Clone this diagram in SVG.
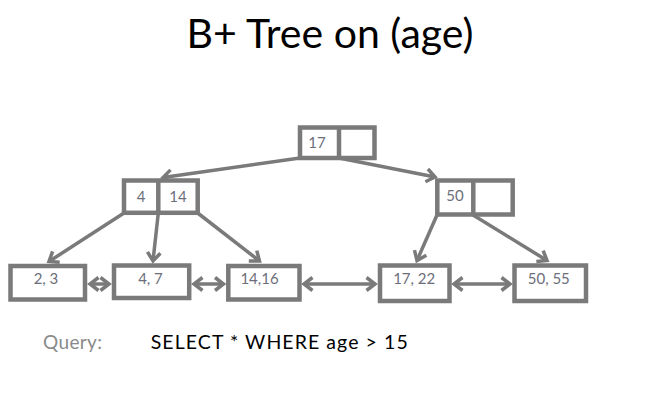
<svg xmlns="http://www.w3.org/2000/svg" width="650" height="412" viewBox="0 0 650 412">
<style>
.box{fill:#fff;stroke:#7a7a7a;stroke-width:4.5}
.div{stroke:#7a7a7a;stroke-width:4.5}
.lbl{font-family:Lato,"Liberation Sans",sans-serif;font-size:15px;fill:#6c6e7a;text-anchor:middle}
.ln{stroke:#7a7a7a;stroke-width:3.5;fill:none}
.one{marker-end:url(#ah)}
.two{marker-start:url(#ah);marker-end:url(#ah)}
</style>
<defs>
<marker id="ah" markerUnits="userSpaceOnUse" viewBox="-16 -10 20 20" markerWidth="20" markerHeight="20" refX="0" refY="0" orient="auto-start-reverse">
<path d="M -8.5 -6.5 L 0 0 L -8.5 6.5" fill="none" stroke="#7a7a7a" stroke-width="3.5" stroke-linejoin="miter"/>
</marker>
</defs>
<rect width="650" height="412" fill="#fff"/>
<text x="330" y="48" font-family="Lato,'Liberation Sans',sans-serif" font-size="41" fill="#000" text-anchor="middle">B+ Tree on (age)</text>
<g id="connectors">
<line class="ln one" x1="300" y1="158" x2="163" y2="177.5"/>
<line class="ln one" x1="339" y1="158" x2="435" y2="177"/>
<line class="ln one" x1="124" y1="213" x2="49" y2="261.5"/>
<line class="ln one" x1="158.3" y1="213" x2="153" y2="261"/>
<line class="ln one" x1="197.7" y1="213" x2="259.5" y2="261"/>
<line class="ln one" x1="437" y1="215" x2="417" y2="260.5"/>
<line class="ln one" x1="473" y1="215" x2="547" y2="260.5"/>
<line class="ln two" x1="90" y1="284" x2="109" y2="284"/>
<line class="ln two" x1="194" y1="284" x2="223.5" y2="284"/>
<line class="ln two" x1="304" y1="284" x2="375" y2="284"/>
<line class="ln two" x1="454" y1="284" x2="510" y2="284"/>
</g>
<g id="root">
<rect class="box" x="300" y="127.5" width="74.5" height="30.5"/>
<line class="div" x1="339" y1="127.5" x2="339" y2="158"/>
<text class="lbl" x="317" y="148" font-size="16">17</text>
</g>
<g id="node-4-14">
<rect class="box" x="124" y="180.5" width="73.7" height="32.3"/>
<line class="div" x1="158.3" y1="180.5" x2="158.3" y2="212.8"/>
<text class="lbl" x="141" y="201.5" font-size="16">4</text>
<text class="lbl" x="178" y="201.5" font-size="16">14</text>
</g>
<g id="node-50">
<rect class="box" x="437.3" y="180.5" width="75.4" height="34"/>
<line class="div" x1="473.3" y1="180.5" x2="473.3" y2="214.5"/>
<text class="lbl" x="455" y="201" font-size="16">50</text>
</g>
<g id="leaf-2-3">
<rect class="box" x="10.5" y="266" width="74.5" height="33.5"/>
<text class="lbl" x="46" y="284">2, 3</text>
</g>
<g id="leaf-4-7">
<rect class="box" x="114" y="265.5" width="75.2" height="32.5"/>
<text class="lbl" x="150.5" y="284">4, 7</text>
</g>
<g id="leaf-14-16">
<rect class="box" x="228.3" y="266" width="71.2" height="33.5"/>
<text class="lbl" x="259.5" y="284">14,16</text>
</g>
<g id="leaf-17-22">
<rect class="box" x="380" y="265.5" width="69.5" height="35.5"/>
<text class="lbl" x="414.2" y="284">17, 22</text>
</g>
<g id="leaf-50-55">
<rect class="box" x="514.5" y="265.5" width="71.5" height="35.5"/>
<text class="lbl" x="548.8" y="284">50, 55</text>
</g>
<g id="query">
<text x="43" y="349.3" font-family="Lato,'Liberation Sans',sans-serif" font-size="19" fill="#8a8a8a" textLength="59" lengthAdjust="spacing">Query:</text>
<text x="150.7" y="348.5" font-family="Lato,'Liberation Sans',sans-serif" font-size="19.5" fill="#000" textLength="257" lengthAdjust="spacing">SELECT * WHERE  age &gt; 15</text>
</g>
</svg>
